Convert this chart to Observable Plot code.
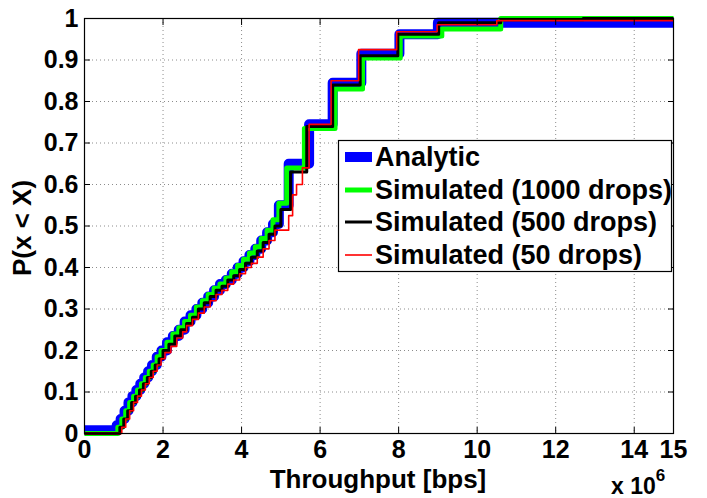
<!DOCTYPE html>
<html>
<head>
<meta charset="utf-8">
<script src="https://cdn.jsdelivr.net/npm/d3@7"></script>
<script src="https://cdn.jsdelivr.net/npm/@observablehq/plot@0.6"></script>
<style>
  html, body { margin: 0; padding: 0; background: #fff; }
  #chart { width: 707px; height: 498px; }
</style>
</head>
<body>
<div id="chart"></div>
<script>
// ---- Data (throughput in units of 1e6 bps, CDF values) ----
const xTicks = [0, 2, 4, 6, 8, 10, 12, 14, 15];
const yTicks = [0, 0.1, 0.2, 0.3, 0.4, 0.5, 0.6, 0.7, 0.8, 0.9, 1];
const gridXTicks = [2, 4, 6, 8, 10, 12, 14];
const gridYTicks = [0.1, 0.2, 0.3, 0.4, 0.5, 0.6, 0.7, 0.8, 0.9];

const seriesNames = ["Analytic", "Simulated (1000 drops)", "Simulated (500 drops)", "Simulated (50 drops)"];
const seriesColors = ["#0000ff", "#00ff00", "#000000", "#ff0000"];
const seriesWidths = [10, 5, 3, 1.6];

const analyticX = [0, 0.82, 0.92, 1.02, 1.12, 1.22, 1.32, 1.42, 1.52, 1.62, 1.72, 1.84, 1.96, 2.1, 2.25, 2.4, 2.55, 2.7, 2.85, 3.0, 3.15, 3.3, 3.45, 3.6, 3.75, 3.9, 4.05, 4.2, 4.35, 4.5, 4.65, 4.8, 4.95, 5.2, 5.72, 6.32, 7.05, 8.02, 9.0, 15];
const analyticY = [0.008, 0.02, 0.035, 0.055, 0.075, 0.09, 0.105, 0.12, 0.135, 0.15, 0.165, 0.185, 0.2, 0.22, 0.235, 0.25, 0.27, 0.285, 0.3, 0.315, 0.33, 0.345, 0.36, 0.37, 0.385, 0.4, 0.415, 0.43, 0.445, 0.465, 0.485, 0.505, 0.55, 0.65, 0.745, 0.845, 0.915, 0.962, 0.99, 0.99];

const sim1000X = [0, 0.85, 0.95, 1.05, 1.15, 1.25, 1.35, 1.45, 1.55, 1.65, 1.75, 1.85, 1.95, 2.1, 2.25, 2.4, 2.55, 2.7, 2.85, 3.0, 3.15, 3.3, 3.45, 3.6, 3.75, 3.9, 4.05, 4.2, 4.35, 4.5, 4.65, 4.8, 4.95, 5.15, 5.6, 6.38, 7.08, 8.04, 9.1, 10.6, 15];
const sim1000Y = [0, 0.015, 0.035, 0.055, 0.075, 0.09, 0.105, 0.12, 0.135, 0.15, 0.165, 0.185, 0.2, 0.22, 0.24, 0.255, 0.27, 0.285, 0.305, 0.32, 0.335, 0.35, 0.36, 0.375, 0.39, 0.405, 0.42, 0.435, 0.45, 0.47, 0.49, 0.515, 0.555, 0.64, 0.735, 0.83, 0.905, 0.958, 0.975, 1.0, 1.0];

const sim500X = [0, 0.9, 1.0, 1.1, 1.2, 1.3, 1.4, 1.5, 1.6, 1.7, 1.8, 1.9, 2.0, 2.15, 2.3, 2.45, 2.6, 2.75, 2.9, 3.05, 3.2, 3.35, 3.5, 3.65, 3.8, 3.95, 4.1, 4.25, 4.4, 4.55, 4.7, 4.85, 5.0, 5.25, 5.66, 6.32, 7.02, 7.98, 9.02, 10.6, 12.7, 15];
const sim500Y = [0, 0.015, 0.035, 0.055, 0.075, 0.09, 0.105, 0.12, 0.135, 0.15, 0.165, 0.18, 0.2, 0.215, 0.235, 0.25, 0.265, 0.28, 0.3, 0.315, 0.33, 0.345, 0.355, 0.37, 0.38, 0.395, 0.41, 0.425, 0.44, 0.46, 0.48, 0.5, 0.54, 0.63, 0.74, 0.84, 0.91, 0.962, 0.99, 0.997, 1.0, 1.0];

const sim50X = [0, 0.95, 1.05, 1.15, 1.25, 1.35, 1.45, 1.55, 1.65, 1.75, 1.85, 1.95, 2.05, 2.2, 2.35, 2.5, 2.6, 2.75, 2.9, 3.05, 3.2, 3.35, 3.5, 3.65, 3.8, 3.95, 4.1, 4.25, 4.4, 4.55, 4.7, 4.85, 5.2, 5.3, 5.4, 5.55, 5.72, 6.28, 6.98, 7.95, 8.98, 10.5, 15];
const sim50Y = [0, 0.015, 0.035, 0.055, 0.075, 0.09, 0.105, 0.12, 0.135, 0.15, 0.165, 0.18, 0.195, 0.21, 0.23, 0.245, 0.26, 0.275, 0.29, 0.305, 0.32, 0.335, 0.345, 0.36, 0.37, 0.385, 0.4, 0.41, 0.425, 0.445, 0.465, 0.49, 0.525, 0.575, 0.6, 0.64, 0.745, 0.85, 0.925, 0.968, 0.985, 0.995, 0.995];

const seriesX = [analyticX, sim1000X, sim500X, sim50X];
const seriesY = [analyticY, sim1000Y, sim500Y, sim50Y];

// ---- Build tables ----
const tables = seriesX.map((xs, i) => xs.map((x, j) => ({x, y: seriesY[i][j]})));

const FONT = "'Liberation Sans', Arial, Helvetica, sans-serif";
const FS = 26;

const W = 707, H = 498;
const mL = 84, mR = 34, mT = 18, mB = 65;

const chart = Plot.plot({
  width: W,
  height: H,
  marginLeft: mL,
  marginRight: mR,
  marginTop: mT,
  marginBottom: mB,
  style: {background: "#fff", fontFamily: FONT, fontWeight: "bold", fontSize: FS + "px", color: "#000"},
  x: {domain: [0, 15], label: null},
  y: {domain: [0, 1], label: null},
  marks: [
    Plot.gridX(gridXTicks, {stroke: "#8c8c8c", strokeOpacity: 1, strokeDasharray: "1,3"}),
    Plot.gridY(gridYTicks, {stroke: "#8c8c8c", strokeOpacity: 1, strokeDasharray: "1,3"}),
    ...tables.map((t, i) => Plot.line(t, {
      x: "x", y: "y", curve: "step-after",
      stroke: seriesColors[i], strokeWidth: seriesWidths[i], strokeLinejoin: "round", strokeLinecap: "butt"
    })),
    Plot.frame({stroke: "#000", strokeWidth: 1.2}),
    Plot.axisX(xTicks, {anchor: "bottom", tickSize: -6, tickPadding: 13, tickFormat: d => String(d), fontSize: FS - 1, label: null}),
    Plot.axisX(xTicks, {anchor: "top", tickSize: -6, tickFormat: () => "", label: null}),
    Plot.axisY(yTicks, {anchor: "left", tickSize: -6, tickPadding: 12, tickFormat: d => (d === 0 || d === 1) ? String(d) : d.toFixed(1), fontSize: FS - 1, label: null}),
    Plot.axisY(yTicks, {anchor: "right", tickSize: -6, tickFormat: () => "", label: null})
  ]
});

document.getElementById("chart").appendChild(chart);

// ---- Labels and legend drawn into the same SVG ----
const svg = d3.select(chart);
const txt = (sel) => sel.attr("font-family", FONT).attr("font-weight", "bold").attr("fill", "#000");

txt(svg.append("text"))
  .attr("x", 378).attr("y", 488)
  .attr("text-anchor", "middle").attr("font-size", FS)
  .text("Throughput [bps]");

txt(svg.append("text"))
  .attr("transform", "translate(31,228) rotate(-90)")
  .attr("text-anchor", "middle").attr("font-size", FS)
  .text("P(x < X)");

const exp = txt(svg.append("text")).attr("x", 611).attr("y", 494)
  .attr("text-anchor", "start").attr("font-size", FS - 3);
exp.append("tspan").text("x 10");
exp.append("tspan").attr("dy", -13).attr("font-size", FS - 9).text("6");

const lg = svg.append("g");
lg.append("rect").attr("x", 338.5).attr("y", 140.5).attr("width", 333).attr("height", 131)
  .attr("fill", "#fff").attr("stroke", "#000").attr("stroke-width", 1.2);
const rowY = [157, 190, 222, 255];
seriesNames.forEach((name, i) => {
  lg.append("line")
    .attr("x1", 345).attr("x2", 372).attr("y1", rowY[i]).attr("y2", rowY[i])
    .attr("stroke", seriesColors[i]).attr("stroke-width", seriesWidths[i]);
  txt(lg.append("text"))
    .attr("x", 375).attr("y", rowY[i] + 9).attr("font-size", FS + 1)
    .attr("text-anchor", "start")
    .text(name);
});
</script>
</body>
</html>
